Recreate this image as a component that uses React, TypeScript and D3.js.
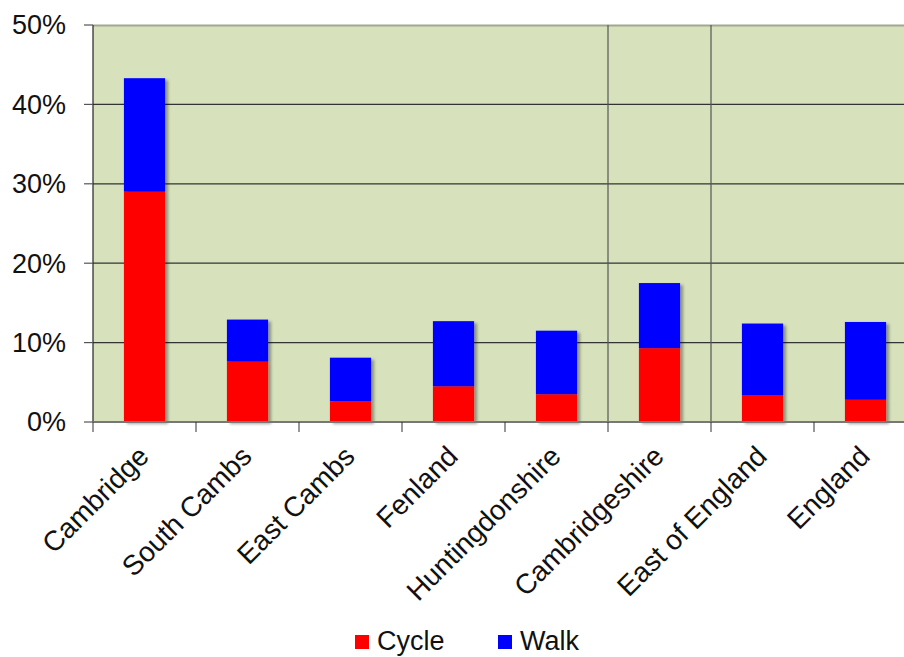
import React from "react";
import * as d3 from "d3";

const categories = ["Cambridge", "South Cambs", "East Cambs", "Fenland", "Huntingdonshire", "Cambridgeshire", "East of England", "England"];
const cycle = [29.0, 7.6, 2.6, 4.5, 3.5, 9.3, 3.4, 2.8];
const walk = [14.3, 5.3, 5.5, 8.2, 8.0, 8.2, 9.0, 9.8];
const yTicks = [0, 10, 20, 30, 40, 50];
const seriesNames = ["Cycle", "Walk"];
const seriesColors = ["#ff0000", "#0000ff"];

export default function App() {
  const W = 904, H = 657;
  const left = 93, right = 917, top = 25, bottom = 422;
  const x = d3.scaleBand<string>().domain(categories).range([left, right]).paddingInner(0).paddingOuter(0);
  const y = d3.scaleLinear().domain([0, 50]).range([bottom, top]);
  const bw = x.bandwidth() * 0.4;
  const font = "Arial, 'Liberation Sans', sans-serif";
  const separators = ["Cambridgeshire", "East of England"];
  return (
    <svg width={W} height={H} style={{ position: "absolute", left: 0, top: 0 }} fontFamily={font}>
      <defs>
        <filter id="sh" x="-20%" y="-10%" width="150%" height="130%">
          <feGaussianBlur in="SourceAlpha" stdDeviation="1.5" />
          <feOffset dx="3" dy="2" result="b" />
          <feComponentTransfer><feFuncA type="linear" slope="0.35" /></feComponentTransfer>
          <feMerge><feMergeNode /><feMergeNode in="SourceGraphic" /></feMerge>
        </filter>
      </defs>
      <rect x={0} y={0} width={W} height={H} fill="#fff" />
      <rect x={left} y={top} width={right - left} height={bottom - top} fill="#d7e2bc" />
      <line x1={left} x2={right} y1={top + 0.5} y2={top + 0.5} stroke="#a0a890" strokeWidth={2} />
      {yTicks.slice(1, -1).map(t => (
        <line key={t} x1={left} x2={right} y1={y(t)} y2={y(t)} stroke="#333" strokeWidth={1.2} />
      ))}
      {separators.map(c => (
        <line key={c} x1={x(c)!} x2={x(c)!} y1={top} y2={bottom} stroke="#555" strokeWidth={1.2} />
      ))}
      {categories.map((c, i) => {
        const cx = x(c)! + x.bandwidth() / 2;
        return (
          <g key={c} filter="url(#sh)">
            <rect x={cx - bw / 2} y={y(cycle[i])} width={bw} height={y(0) - y(cycle[i])} fill={seriesColors[0]} />
            <rect x={cx - bw / 2} y={y(cycle[i] + walk[i])} width={bw} height={y(cycle[i]) - y(cycle[i] + walk[i])} fill={seriesColors[1]} />
          </g>
        );
      })}
      <line x1={left} x2={left} y1={top} y2={bottom} stroke="#222" strokeWidth={1.2} />
      <line x1={left} x2={right} y1={bottom} y2={bottom} stroke="#777" strokeWidth={2} />
      {yTicks.map(t => (
        <g key={t}>
          <line x1={left - 9} x2={left} y1={y(t)} y2={y(t)} stroke="#555" strokeWidth={1.2} />
          <text x={66} y={y(t)} dy="0.35em" textAnchor="end" fontSize={27} fill="#111">{t}%</text>
        </g>
      ))}
      {categories.map((c, i) => (
        <line key={c} x1={x(c)!} x2={x(c)!} y1={bottom} y2={bottom + 10} stroke="#333" strokeWidth={1} />
      ))}
      {categories.map(c => {
        const cx = x(c)! + x.bandwidth() / 2 + 6;
        return (
          <text key={c} transform={`translate(${cx},${bottom + 36}) rotate(-45)`} textAnchor="end" fontSize={28} fill="#111">{c}</text>
        );
      })}
      {seriesNames.map((s, i) => {
        const lx = [355, 498][i];
        return (
          <g key={s}>
            <rect x={lx} y={635} width={14} height={14} fill={seriesColors[i]} />
            <text x={lx + 22} y={650} fontSize={27} fill="#111">{s}</text>
          </g>
        );
      })}
    </svg>
  );
}
